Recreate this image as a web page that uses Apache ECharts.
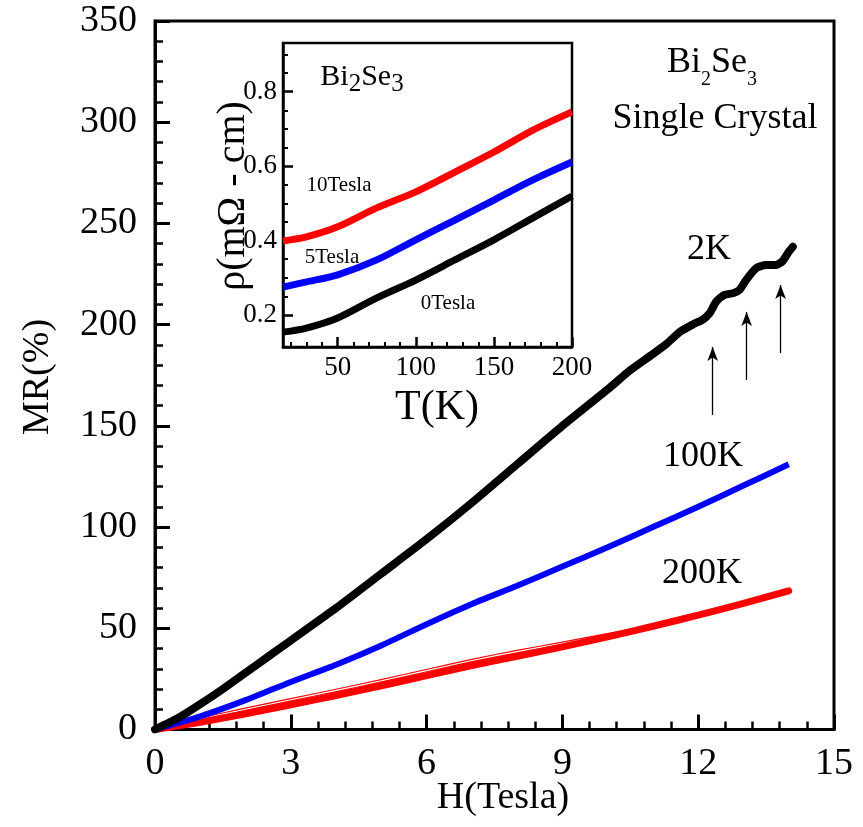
<!DOCTYPE html>
<html>
<head>
<meta charset="utf-8">
<script src="https://cdn.jsdelivr.net/npm/echarts@6/dist/echarts.min.js"></script>
<style>
  html, body { margin: 0; padding: 0; background: #fff; }
  #chart { width: 863px; height: 827px; }
</style>
</head>
<body>
<div id="chart"></div>
<script>
// main plot: MR(%) vs H(Tesla)
var h2K = [0, 0.5, 1, 1.5, 2, 2.5, 3, 4, 5, 6, 7, 8, 9, 10, 10.5, 11, 11.3, 11.6, 11.9, 12.1, 12.25, 12.4, 12.58, 12.77, 12.91, 13.06, 13.28, 13.5, 13.72, 13.87, 14.0, 14.09];
var mr2K = [0, 5.5, 12.5, 20, 28, 36, 44, 60, 77, 94, 112, 131, 150, 168, 177.5, 185.5, 190.5, 196.5, 200.3, 202.5, 205.6, 211.4, 214.7, 215.5, 217.1, 222.1, 227.9, 229.5, 229.5, 231.5, 236, 238.5];

var h100K = [0, 1, 2, 3, 4, 5, 6, 7, 8, 9, 10, 11, 12, 13, 14];
var mr100K = [0, 6.5, 14.5, 23.5, 32, 41.5, 52, 62, 71, 80.5, 90, 100, 110, 120.5, 131];

var h200K = [0, 1, 2, 3, 4, 5, 6, 7, 8, 9, 10, 11, 12, 13, 14];
var mr200K = [0, 3.6, 7.8, 12.2, 16.8, 21.6, 26.6, 31.6, 36.2, 40.8, 45.8, 51, 56.5, 62.3, 68.5];
// thin second sweep just above the 200K curve
var h200Kb = [0, 1, 2, 3, 4, 5, 6, 7, 8, 9, 10, 11];
var mr200Kb = [0, 5.1, 10, 14.7, 19.3, 24.1, 29.1, 34.1, 38.5, 42.6, 46.8, 51];

// arrows under the oscillations
var arrowH = [12.32, 13.07, 13.82];
var arrowFrom = [155.4, 172.7, 186];
var arrowTo = [189, 206.3, 219.6];

var mainHMinor = [0.6, 1.2, 1.8, 2.4, 3.6, 4.2, 4.8, 5.4, 6.6, 7.2, 7.8, 8.4, 9.6, 10.2, 10.8, 11.4, 12.6, 13.2, 13.8, 14.4];
var mainMRMinor = [10, 20, 30, 40, 60, 70, 80, 90, 110, 120, 130, 140, 160, 170, 180, 190, 210, 220, 230, 240, 260, 270, 280, 290, 310, 320, 330, 340];

// inset: rho vs T
var insetT = [15, 30, 50, 75, 100, 125, 150, 175, 200];
var rho0T = [0.154, 0.165, 0.192, 0.246, 0.294, 0.348, 0.402, 0.461, 0.520];
var rho5T = [0.275, 0.289, 0.308, 0.348, 0.402, 0.455, 0.509, 0.563, 0.611];
var rho10T = [0.399, 0.410, 0.437, 0.488, 0.531, 0.584, 0.638, 0.697, 0.746];

var insetTTicks = [50, 100, 150, 200];
var insetTMinor = [20, 30, 40, 60, 70, 80, 90, 110, 120, 130, 140, 160, 170, 180, 190];
var insetRhoTicks = [0.2, 0.4, 0.6, 0.8];
var insetRhoMinor = [0.15, 0.25, 0.3, 0.35, 0.45, 0.5, 0.55, 0.65, 0.7, 0.75, 0.85, 0.9];

var FONT = 'Liberation Serif';

function pairs(xs, ys) {
  return xs.map(function (x, i) { return [x, ys[i]]; });
}

var arrowLines = arrowH.map(function (h, i) {
  return [{coord: [h, arrowFrom[i]]}, {coord: [h, arrowTo[i]]}];
});

// extra axis that only draws a set of (minor) ticks
function tickAxis(grid, min, max, pos, values, len, width) {
  return {
    type: 'value', gridIndex: grid, min: min, max: max, position: pos,
    axisLine: {show: false},
    axisTick: {show: true, inside: true, length: len, customValues: values, lineStyle: {color: '#000', width: width}},
    splitLine: {show: false},
    axisLabel: {show: false}
  };
}

var chart = echarts.init(document.getElementById('chart'));

var mainTick = {show: true, inside: true, length: 15, lineStyle: {color: '#000', width: 3}};
var insetLine = {show: true, lineStyle: {color: '#000', width: 2.5}};

var option = {
  animation: false,
  backgroundColor: '#fff',
  grid: [
    {left: 155, top: 21, right: 29, bottom: 97.5, show: true, borderColor: '#000', borderWidth: 3},
    {left: 283, top: 43, right: 291, bottom: 480, show: true, borderColor: '#000', borderWidth: 2.5, backgroundColor: '#fff'}
  ],
  xAxis: [
    {
      type: 'value', gridIndex: 0, min: 0, max: 15, interval: 3, position: 'bottom',
      axisLine: {show: true, lineStyle: {color: '#000', width: 3}},
      axisTick: mainTick,
      splitLine: {show: false},
      axisLabel: {color: '#000', fontFamily: FONT, fontSize: 38, margin: 16}
    },
    tickAxis(0, 0, 15, 'bottom', mainHMinor, 8, 2.5),
    {
      type: 'value', gridIndex: 1, min: 15, max: 200, position: 'bottom',
      axisLine: insetLine,
      axisTick: {show: true, inside: true, length: 10, customValues: insetTTicks, lineStyle: {color: '#000', width: 2.5}},
      splitLine: {show: false},
      axisLabel: {color: '#000', fontFamily: FONT, fontSize: 27, margin: 7, customValues: insetTTicks}
    },
    tickAxis(1, 15, 200, 'bottom', insetTMinor, 5, 2)
  ],
  yAxis: [
    {
      type: 'value', gridIndex: 0, min: 0, max: 350, interval: 50, position: 'left',
      axisLine: {show: true, lineStyle: {color: '#000', width: 3}},
      axisTick: mainTick,
      splitLine: {show: false},
      axisLabel: {color: '#000', fontFamily: FONT, fontSize: 38, margin: 18}
    },
    tickAxis(0, 0, 350, 'left', mainMRMinor, 8, 2.5),
    {
      type: 'value', gridIndex: 1, min: 0.114, max: 0.931, position: 'left',
      axisLine: insetLine,
      axisTick: {show: true, inside: true, length: 10, customValues: insetRhoTicks, lineStyle: {color: '#000', width: 2.5}},
      splitLine: {show: false},
      axisLabel: {color: '#000', fontFamily: FONT, fontSize: 27, margin: 6, customValues: insetRhoTicks,
        formatter: function (v) { return v.toFixed(1); }}
    },
    tickAxis(1, 0.114, 0.931, 'left', insetRhoMinor, 5, 2)
  ],
  series: [
    {
      name: '200K sweep', type: 'line', xAxisIndex: 0, yAxisIndex: 0,
      data: pairs(h200Kb, mr200Kb), showSymbol: false, smooth: 0.2,
      lineStyle: {color: '#ff0000', width: 3.5}
    },
    {
      name: '200K sweep gap', type: 'line', xAxisIndex: 0, yAxisIndex: 0,
      data: pairs(h200Kb, mr200Kb), showSymbol: false, smooth: 0.2,
      lineStyle: {color: '#fff', width: 1.2}
    },
    {
      name: '200K', type: 'line', xAxisIndex: 0, yAxisIndex: 0,
      data: pairs(h200K, mr200K), showSymbol: false, smooth: 0.2,
      lineStyle: {color: '#ff0000', width: 7, cap: 'round'}
    },
    {
      name: '100K', type: 'line', xAxisIndex: 0, yAxisIndex: 0,
      data: pairs(h100K, mr100K), showSymbol: false, smooth: 0.2,
      lineStyle: {color: '#0000ff', width: 6}
    },
    {
      name: '2K', type: 'line', xAxisIndex: 0, yAxisIndex: 0,
      data: pairs(h2K, mr2K), showSymbol: false, smooth: 0.2,
      lineStyle: {color: '#000', width: 8, cap: 'round', join: 'round'},
      markLine: {
        silent: true, symbol: ['none', 'arrow'], symbolSize: [8, 14],
        label: {show: false},
        lineStyle: {color: '#000', width: 1.3, type: 'solid'},
        data: arrowLines
      }
    },
    {
      name: '0Tesla', type: 'line', xAxisIndex: 2, yAxisIndex: 2,
      data: pairs(insetT, rho0T), showSymbol: false, smooth: 0.3,
      lineStyle: {color: '#000', width: 7}
    },
    {
      name: '5Tesla', type: 'line', xAxisIndex: 2, yAxisIndex: 2,
      data: pairs(insetT, rho5T), showSymbol: false, smooth: 0.3,
      lineStyle: {color: '#0000ff', width: 7}
    },
    {
      name: '10Tesla', type: 'line', xAxisIndex: 2, yAxisIndex: 2,
      data: pairs(insetT, rho10T), showSymbol: false, smooth: 0.3,
      lineStyle: {color: '#ff0000', width: 7}
    }
  ],
  graphic: [
    // axis titles
    {type: 'text', x: 503, y: 798, style: {text: 'H(Tesla)', font: '38px "Liberation Serif"', fill: '#000', align: 'center', verticalAlign: 'middle'}},
    {type: 'text', x: 38, y: 377, rotation: Math.PI / 2, style: {text: 'MR(%)', font: '38px "Liberation Serif"', fill: '#000', align: 'center', verticalAlign: 'middle'}},
    {type: 'text', x: 437, y: 408, style: {text: 'T(K)', font: '42px "Liberation Serif"', fill: '#000', align: 'center', verticalAlign: 'middle'}},
    {type: 'text', x: 233, y: 196, rotation: Math.PI / 2, style: {text: 'ρ(mΩ - cm)', font: '40px "Liberation Serif"', fill: '#000', align: 'center', verticalAlign: 'middle'}},
    // curve labels
    {type: 'text', x: 709, y: 250, style: {text: '2K', font: '36px "Liberation Serif"', fill: '#000', align: 'center', verticalAlign: 'middle'}},
    {type: 'text', x: 703, y: 457, style: {text: '100K', font: '36px "Liberation Serif"', fill: '#000', align: 'center', verticalAlign: 'middle'}},
    {type: 'text', x: 702, y: 574, style: {text: '200K', font: '36px "Liberation Serif"', fill: '#000', align: 'center', verticalAlign: 'middle'}},
    {type: 'text', x: 339, y: 185, style: {text: '10Tesla', font: '21px "Liberation Serif"', fill: '#000', align: 'center', verticalAlign: 'middle'}},
    {type: 'text', x: 332, y: 257, style: {text: '5Tesla', font: '21px "Liberation Serif"', fill: '#000', align: 'center', verticalAlign: 'middle'}},
    {type: 'text', x: 448, y: 303, style: {text: '0Tesla', font: '21px "Liberation Serif"', fill: '#000', align: 'center', verticalAlign: 'middle'}},
    // sample labels
    {type: 'text', x: 712, y: 45, z: 100, style: {
      text: '{n|Bi}{s|2}{n|Se}{s|3}', align: 'center', verticalAlign: 'top', fill: '#000',
      rich: {
        n: {fontFamily: FONT, fontSize: 36, lineHeight: 30, verticalAlign: 'top'},
        s: {fontFamily: FONT, fontSize: 20, lineHeight: 70}
      }
    }},
    {type: 'text', x: 715, y: 119, style: {text: 'Single Crystal', font: '36px "Liberation Serif"', fill: '#000', align: 'center', verticalAlign: 'middle'}},
    {type: 'text', x: 362, y: 62, z: 100, style: {
      text: '{n|Bi}{s|2}{n|Se}{s|3}', align: 'center', verticalAlign: 'top', fill: '#000',
      rich: {
        n: {fontFamily: FONT, fontSize: 30, lineHeight: 30, verticalAlign: 'top'},
        s: {fontFamily: FONT, fontSize: 25, lineHeight: 44}
      }
    }}
  ]
};

chart.setOption(option);
</script>
</body>
</html>
